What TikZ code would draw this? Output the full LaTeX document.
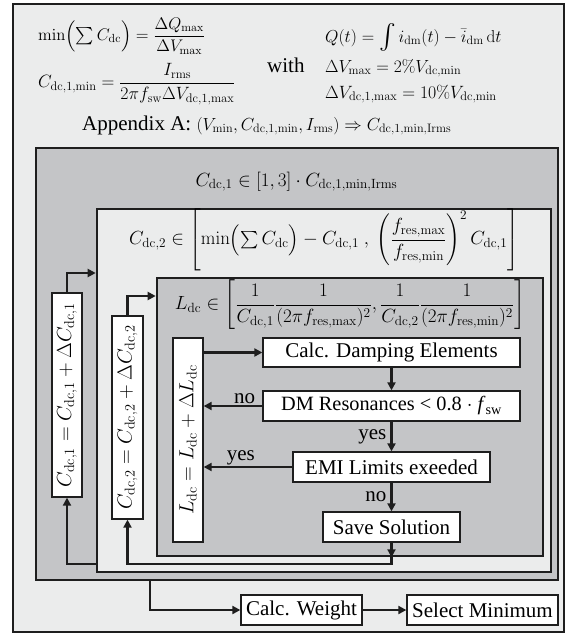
\RequirePackage{fix-cm}
\documentclass[tikz,border=0pt]{standalone}
\usepackage{amsmath}
\usepackage{graphicx}
\usepackage[no-math]{fontspec}
\setmainfont{Liberation Serif}
\usetikzlibrary{arrows.meta}
\definecolor{lightbg}{RGB}{235,236,236}
\definecolor{midbg}{RGB}{196,197,199}
\definecolor{edge}{RGB}{30,30,30}
\newcommand{\dc}{\mathrm{dc}}
\newcommand{\fsz}[2]{\fontsize{#1}{#2}\selectfont}
\newcommand{\midint}{\mathop{\vcenter{\hbox{\scalebox{1.45}{$\int$}}}}\nolimits}
\begin{document}
\begin{tikzpicture}[x=1pt,y=-1pt,
  frame/.style={draw=edge, line width=2.6pt, inner sep=0pt},
  wbox/.style={draw=edge, line width=1.3pt, fill=white, inner sep=0pt},
  arr/.style={draw=edge, line width=2.2pt, -{Triangle[length=8pt,width=8pt]}},
  lab/.style={inner sep=1pt},
  every node/.append style={font=\fsz{21}{25}}]
\useasboundingbox (0,0) rectangle (571,635);
\fill[white] (0,0) rectangle (571,635);
% frames
\node[frame, fill=lightbg, minimum width=551, minimum height=628] (F0) at (288.5,318) {};
\node[frame, fill=midbg, minimum width=522, minimum height=432] (F1) at (297,364) {};
\node[frame, fill=lightbg, minimum width=454, minimum height=363] (F2) at (324,390.5) {};
\node[frame, fill=midbg, minimum width=386, minimum height=278] (F3) at (350,417) {};
% top equations
\node[anchor=west, inner sep=0pt, font=\fsz{16.8}{20}] (e1) at (38,36) {$\min\Bigl(\sum C_{\dc}\Bigr) = \dfrac{\Delta Q_{\max}}{\Delta V_{\max}}$};
\node[anchor=west, inner sep=0pt, font=\fsz{17.8}{21}] (e2) at (38,84) {$C_{\dc,1,\min} = \dfrac{I_{\mathrm{rms}}}{2\pi f_{\mathrm{sw}}\Delta V_{\dc,1,\max}}$};
\node[anchor=base west, inner sep=0pt] (with) at (267,72) {with};
\node[anchor=base west, inner sep=0pt, font=\fsz{17.3}{21}] (e3) at (325,42) {$Q(t) = \midint i_{\mathrm{dm}}(t) - \bar{i}_{\mathrm{dm}}\,\mathrm{d}t$};
\node[anchor=base west, inner sep=0pt, font=\fsz{17.5}{21}] (e4) at (325,72) {$\Delta V_{\max} = 2\% V_{\dc,\min}$};
\node[anchor=base west, inner sep=0pt, font=\fsz{17.8}{21}] (e5) at (325,98) {$\Delta V_{\dc,1,\max} = 10\% V_{\dc,\min}$};
\node[anchor=base west, inner sep=0pt] (app) at (82,130) {Appendix A: {\fsz{17.5}{21}$(V_{\min}, C_{\dc,1,\min}, I_{\mathrm{rms}}) \Rightarrow C_{\dc,1,\min,\mathrm{Irms}}$}};
% frame texts
\node[anchor=base, inner sep=0pt, font=\fsz{19.1}{23}] (t1) at (296.5,186) {$C_{\dc,1} \in [1,3]\cdot C_{\dc,1,\min,\mathrm{Irms}}$};
\node[inner sep=0pt, font=\fsz{19}{23}] (t2) at (324,240) {$C_{\dc,2} \in \left[\min\Bigl(\sum C_{\dc}\Bigr) - C_{\dc,1}\ ,\ \left(\dfrac{f_{\mathrm{res},\max}}{f_{\mathrm{res},\min}}\right)^{2} C_{\dc,1}\right]$};
\node[inner sep=0pt, font=\fsz{19.1}{23}] (t3) at (350,305) {$L_{\dc} \in \left[\dfrac{1}{C_{\dc,1}}\dfrac{1}{(2\pi f_{\mathrm{res},\max})^2}, \dfrac{1}{C_{\dc,2}}\dfrac{1}{(2\pi f_{\mathrm{res},\min})^2}\right]$};
% update boxes
\node[wbox, minimum width=30, minimum height=204] (u1) at (67,395) {};
\node[rotate=90, inner sep=0pt, font=\fsz{20.4}{24}] (u1t) at (u1.center) {$C_{\dc,1} = C_{\dc,1} + \Delta C_{\dc,1}$};
\node[wbox, minimum width=31, minimum height=203] (u2) at (127.5,417.5) {};
\node[rotate=90, inner sep=0pt, font=\fsz{20.4}{24}] (u2t) at (u2.center) {$C_{\dc,2} = C_{\dc,2} + \Delta C_{\dc,2}$};
\node[wbox, minimum width=30, minimum height=204] (u3) at (188,440) {};
\node[rotate=90, inner sep=0pt, font=\fsz{20.4}{24}] (u3t) at (u3.center) {$L_{\dc} = L_{\dc} + \Delta L_{\dc}$};
% process boxes
\node[wbox, minimum width=257, minimum height=29] (calc) at (391.5,352.5) {Calc. Damping Elements};
\node[wbox, minimum width=257, minimum height=30, font=\fsz{20.3}{24}] (dm) at (391.5,406) {DM Resonances < 0.8 $\cdot$ \textit{f}\textsubscript{sw}};
\node[wbox, minimum width=197, minimum height=30] (emi) at (391.5,467) {EMI Limits exeeded};
\node[wbox, minimum width=137, minimum height=30] (save) at (391.5,527) {Save Solution};
\node[wbox, minimum width=121, minimum height=30] (weight) at (301.5,610) {Calc. Weight};
\node[wbox, minimum width=151, minimum height=30] (selmin) at (482.5,610) {Select Minimum};
% connectors
\draw[arr] (u1.north) |- (F2.west |- 0,273);
\draw[arr] (F2.west |- 0,564) -| (u1.south);
\draw[arr] (u2.north) |- (F3.west |- 0,296);
\draw[arr] (save.south) -- (save.south |- F3.south);
\draw[arr] (save.south |- F3.south) -- (save.south |- 0,564) -| (u2.south);
\draw[arr] (u3.east |- calc) -- (calc.west);
\draw[arr] (calc) -- (dm);
\draw[arr] (dm.west) -- (u3.east |- dm) node[lab, pos=0.3, above] (no1) {no};
\draw[arr] (dm) -- (emi) node[lab, midway, left=3pt] (yes1) {yes};
\draw[arr] (emi.west) -- (u3.east |- emi) node[lab, pos=0.58, above] (yes2) {yes};
\draw[arr] (emi) -- (save) node[lab, midway, left=3pt] (no2) {no};
\draw[arr] (F1.south -| 150,0) |- (weight.west);
\draw[arr] (weight) -- (selmin);
\end{tikzpicture}
\end{document}
